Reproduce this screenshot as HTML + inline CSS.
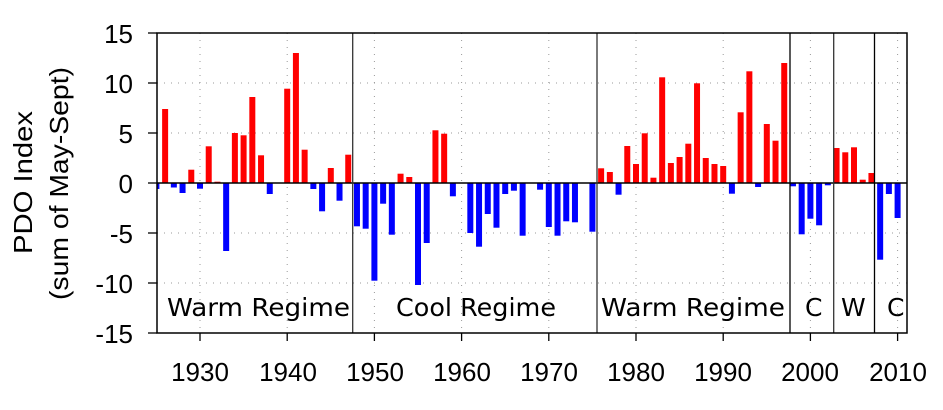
<!DOCTYPE html>
<html><head><meta charset="utf-8"><style>
html,body{margin:0;padding:0;background:#fff;}
svg{display:block;font-family:"Liberation Sans",Arial,sans-serif;}
.reg{font-family:"Comic Sans MS","DejaVu Sans",sans-serif;font-size:25px;}
</style></head><body>
<svg id="s" width="943" height="410" viewBox="0 0 943 410" xmlns="http://www.w3.org/2000/svg">
<g id="grid" stroke="#999" stroke-width="1" stroke-dasharray="1,6"></g>
<g id="bars"></g>
<line x1="157" y1="183" x2="907" y2="183" stroke="#000" stroke-width="1.5"/>
<g stroke="#333" stroke-width="1.3">
<line x1="352.7" y1="33" x2="352.7" y2="333"/>
<line x1="597" y1="33" x2="597" y2="333"/>
<line x1="790" y1="33" x2="790" y2="333" stroke="#000"/>
<line x1="833.7" y1="33" x2="833.7" y2="333"/>
<line x1="874.5" y1="33" x2="874.5" y2="333" stroke="#000"/>
</g>
<rect x="157" y="33" width="750" height="300" fill="none" stroke="#000" stroke-width="1.5"/>
<g id="ticks" stroke="#000" stroke-width="1.3"></g>
<g font-size="26" text-anchor="end" fill="#000">
<text x="133" y="43">15</text><text x="133" y="93">10</text><text x="133" y="143">5</text>
<text x="133" y="193">0</text><text x="133" y="243">-5</text><text x="133" y="293">-10</text>
<text x="133" y="343">-15</text>
</g>
<g font-size="26" text-anchor="middle" fill="#000">
<text x="200" y="381">1930</text><text x="288" y="381">1940</text><text x="375" y="381">1950</text>
<text x="462" y="381">1960</text><text x="549" y="381">1970</text><text x="636" y="381">1980</text>
<text x="723" y="381">1990</text><text x="810" y="381">2000</text><text x="898" y="381">2010</text>
</g>
<g font-size="26" fill="#000">
<text transform="translate(32,254) rotate(-90)" textLength="143" lengthAdjust="spacingAndGlyphs">PDO Index</text>
<text transform="translate(68,300) rotate(-90)" textLength="233" lengthAdjust="spacingAndGlyphs">(sum of May-Sept)</text>
</g>
<g class="reg" fill="#000">
<text x="167" y="316" textLength="183" lengthAdjust="spacingAndGlyphs">Warm Regime</text>
<text x="396" y="316" textLength="160" lengthAdjust="spacingAndGlyphs">Cool Regime</text>
<text x="601" y="316" textLength="184" lengthAdjust="spacingAndGlyphs">Warm Regime</text>
<text x="805" y="316">C</text>
<text x="841" y="316">W</text>
<text x="887" y="316">C</text>
</g>
</svg>
<script>
var v=[-0.6,7.4,-0.45,-1.0,1.33,-0.57,3.67,0.13,-6.8,5.0,4.77,8.6,2.77,-1.1,0,9.43,13.0,3.33,-0.6,-2.83,1.5,-1.77,2.83,-4.33,-4.57,-9.77,-2.07,-5.17,0.93,0.6,-10.2,-6.0,5.27,4.93,-1.33,0,-5.0,-6.37,-3.1,-4.47,-1.1,-0.77,-5.27,0,-0.67,-4.4,-5.27,-3.83,-3.93,0.05,-4.87,1.47,1.1,-1.17,3.7,1.9,4.97,0.53,10.57,2.0,2.6,3.93,9.97,2.5,1.9,1.7,-1.07,7.07,11.17,-0.4,5.9,4.23,12.0,-0.33,-5.13,-3.57,-4.23,-0.23,3.5,3.07,3.57,0.33,1.0,-7.67,-1.1,-3.5];
var NS="http://www.w3.org/2000/svg";
function X(y){return 200+(y-1930)*8.72;}
function el(p,t,a){var e=document.createElementNS(NS,t);for(var k in a)e.setAttribute(k,a[k]);p.appendChild(e);}
var b=document.getElementById("bars");
v.forEach(function(d,i){if(d==0)return;var yr=1925+i,x=X(yr)-3,h=Math.abs(d)*10;
var w=6;if(x<157){w-=157-x;x=157;}
el(b,"rect",{x:x,y:d>0?183-h:183,width:w,height:h,fill:d>0?"#ff0000":"#0000ff"});});
var g=document.getElementById("grid");
[-10,-5,5,10].forEach(function(u){var y=183-u*10;el(g,"line",{x1:157,y1:y,x2:907,y2:y});});
for(var yr=1930;yr<=2010;yr+=10){var x=X(yr);el(g,"line",{x1:x,y1:33,x2:x,y2:333});}
var t=document.getElementById("ticks");
for(var yr=1930;yr<=2010;yr+=10){var x=X(yr);el(t,"line",{x1:x,y1:333,x2:x,y2:341});}
for(var u=-15;u<=15;u+=5){var y=183-u*10;el(t,"line",{x1:148,y1:y,x2:157,y2:y});}
</script>
</body></html>
